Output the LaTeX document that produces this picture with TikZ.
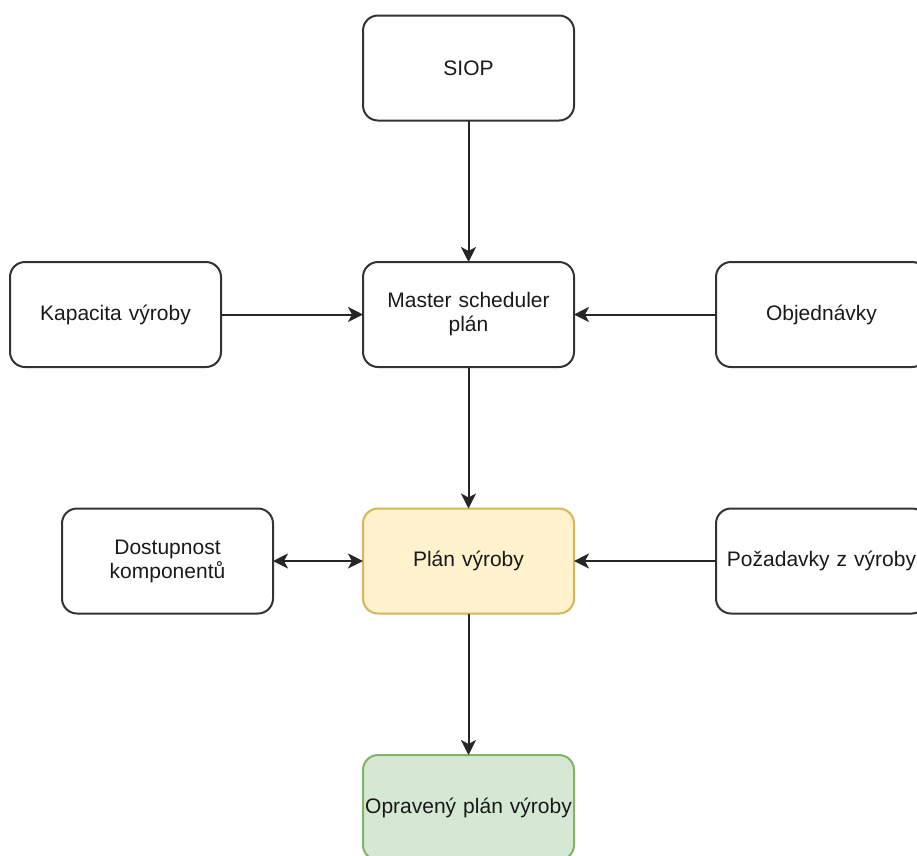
\documentclass[tikz,border=0pt]{standalone}
\usepackage{fontspec}
\setmainfont{Liberation Sans}
\usepackage{tikz}
\usetikzlibrary{positioning, arrows.meta}
\definecolor{planfill}{HTML}{FFF2CC}
\definecolor{plandraw}{HTML}{D6B656}
\definecolor{oprfill}{HTML}{D5E8D4}
\definecolor{oprdraw}{HTML}{82B366}
\tikzset{
	frame/.style={
		rectangle, draw=black!80, line width=2pt,
		text width=211pt, align=center, text=black!90,
		minimum width=211pt, minimum height=105pt,
		rounded corners=15pt, inner sep=0pt, outer sep=0pt,
	},
	line/.style={
		draw, black!85, line width=2pt, -{Stealth[length=15pt,width=15pt,inset=4pt]},
	}
}
\begin{document}
\begin{tikzpicture}[font=\fontsize{21pt}{24pt}\selectfont, node distance=141.5pt]
				\useasboundingbox (0,0) rectangle (917pt,-855pt);
				
				\node [frame] (siop) at (468.5pt,-68pt) {SIOP};
				\node [frame, below=of siop] (master) {Master scheduler\\plán};
				\node [frame, left=142pt of master] (kap) {Kapacita výroby};
				\node [frame, right=142pt of master] (obj) {Objednávky};
				\node [frame, below=of master, fill=planfill, draw=plandraw] (plan) {Plán výroby};
				\node [frame, left=90pt of plan] (dost) {Dostupnost\\komponentů};
				\node [frame, right=142pt of plan] (poz) {Požadavky z výroby};
				\node [frame, below=of plan, fill=oprfill, draw=oprdraw] (opr) {Opravený plán výroby};
				
				\path [line] (siop) -- (master);
				\path [line] (kap) -- (master);
				\path [line] (obj) -- (master);
				\path [line] (master) -- (plan);
				\path [line, {Stealth[length=15pt,width=15pt,inset=4pt]}-{Stealth[length=15pt,width=15pt,inset=4pt]}] (dost) -- (plan);
				\path [line] (poz) -- (plan);
				\path [line] (plan) -- (opr);
\end{tikzpicture}
\end{document}
